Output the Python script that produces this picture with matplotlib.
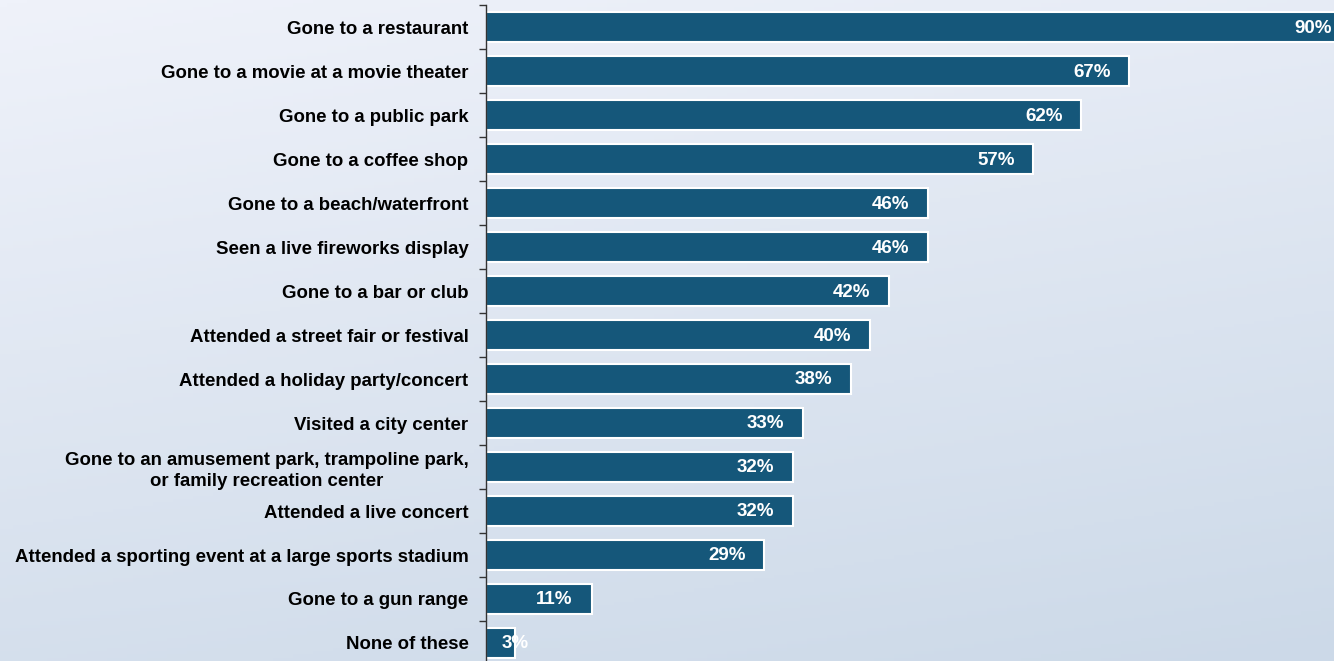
import numpy as np
import matplotlib.pyplot as plt
from matplotlib.colors import LinearSegmentedColormap

# Données du graphique
activites = [
    "Gone to a restaurant",
    "Gone to a movie at a movie theater",
    "Gone to a public park",
    "Gone to a coffee shop",
    "Gone to a beach/waterfront",
    "Seen a live fireworks display",
    "Gone to a bar or club",
    "Attended a street fair or festival",
    "Attended a holiday party/concert",
    "Visited a city center",
    "Gone to an amusement park, trampoline park,\nor family recreation center",
    "Attended a live concert",
    "Attended a sporting event at a large sports stadium",
    "Gone to a gun range",
    "None of these",
]
pourcentages = [90, 67, 62, 57, 46, 46, 42, 40, 38, 33, 32, 32, 29, 11, 3]

plt.rcParams['font.family'] = ['Liberation Sans', 'DejaVu Sans']

fig = plt.figure(figsize=(13.34, 6.61), dpi=100)

# Fond en dégradé (haut-gauche clair -> bas-droite bleuté)
fond = fig.add_axes([0, 0, 1, 1], zorder=-1)
xx, yy = np.meshgrid(np.linspace(0, 1, 200), np.linspace(0, 1, 200))
grad = 0.75 * yy + 0.25 * xx
cmap = LinearSegmentedColormap.from_list('fond', ['#EFF2FA', '#CCD9E8'])
fond.imshow(grad, cmap=cmap, aspect='auto', extent=[0, 1, 1, 0])
fond.axis('off')

ax = fig.add_axes([0.3643, -0.006, 0.6357, 0.998])
ax.patch.set_alpha(0)

y = np.arange(len(activites))
ax.barh(y, pourcentages, height=0.69, color='#15577A', edgecolor='white', linewidth=1.5)

ax.set_ylim(len(activites) - 0.5, -0.5)
ax.set_xlim(0, 88.3)
ax.set_yticks(y)
ax.set_yticklabels(activites, fontsize=13.4, fontweight='bold', color='black',
                   multialignment='center', linespacing=1.3)
ax.set_yticks(np.arange(len(activites) + 1) - 0.5, minor=True)
ax.tick_params(axis='y', which='major', length=0, pad=12.5)
ax.tick_params(axis='y', which='minor', length=5, width=1, color='#333333')
ax.set_xticks([])

for s in ['top', 'right', 'bottom']:
    ax.spines[s].set_visible(False)
ax.spines['left'].set_color('#333333')
ax.spines['left'].set_linewidth(1)

# Étiquettes de valeur dans les barres
for i, v in enumerate(pourcentages):
    xpos = max(v - 3.9, 3.0)
    ax.text(xpos, i + 0.02, f"{v}%", ha='center', va='center', color='white',
            fontsize=13.5, fontweight='bold', clip_on=False)

fig.savefig('out.png', dpi=100)
